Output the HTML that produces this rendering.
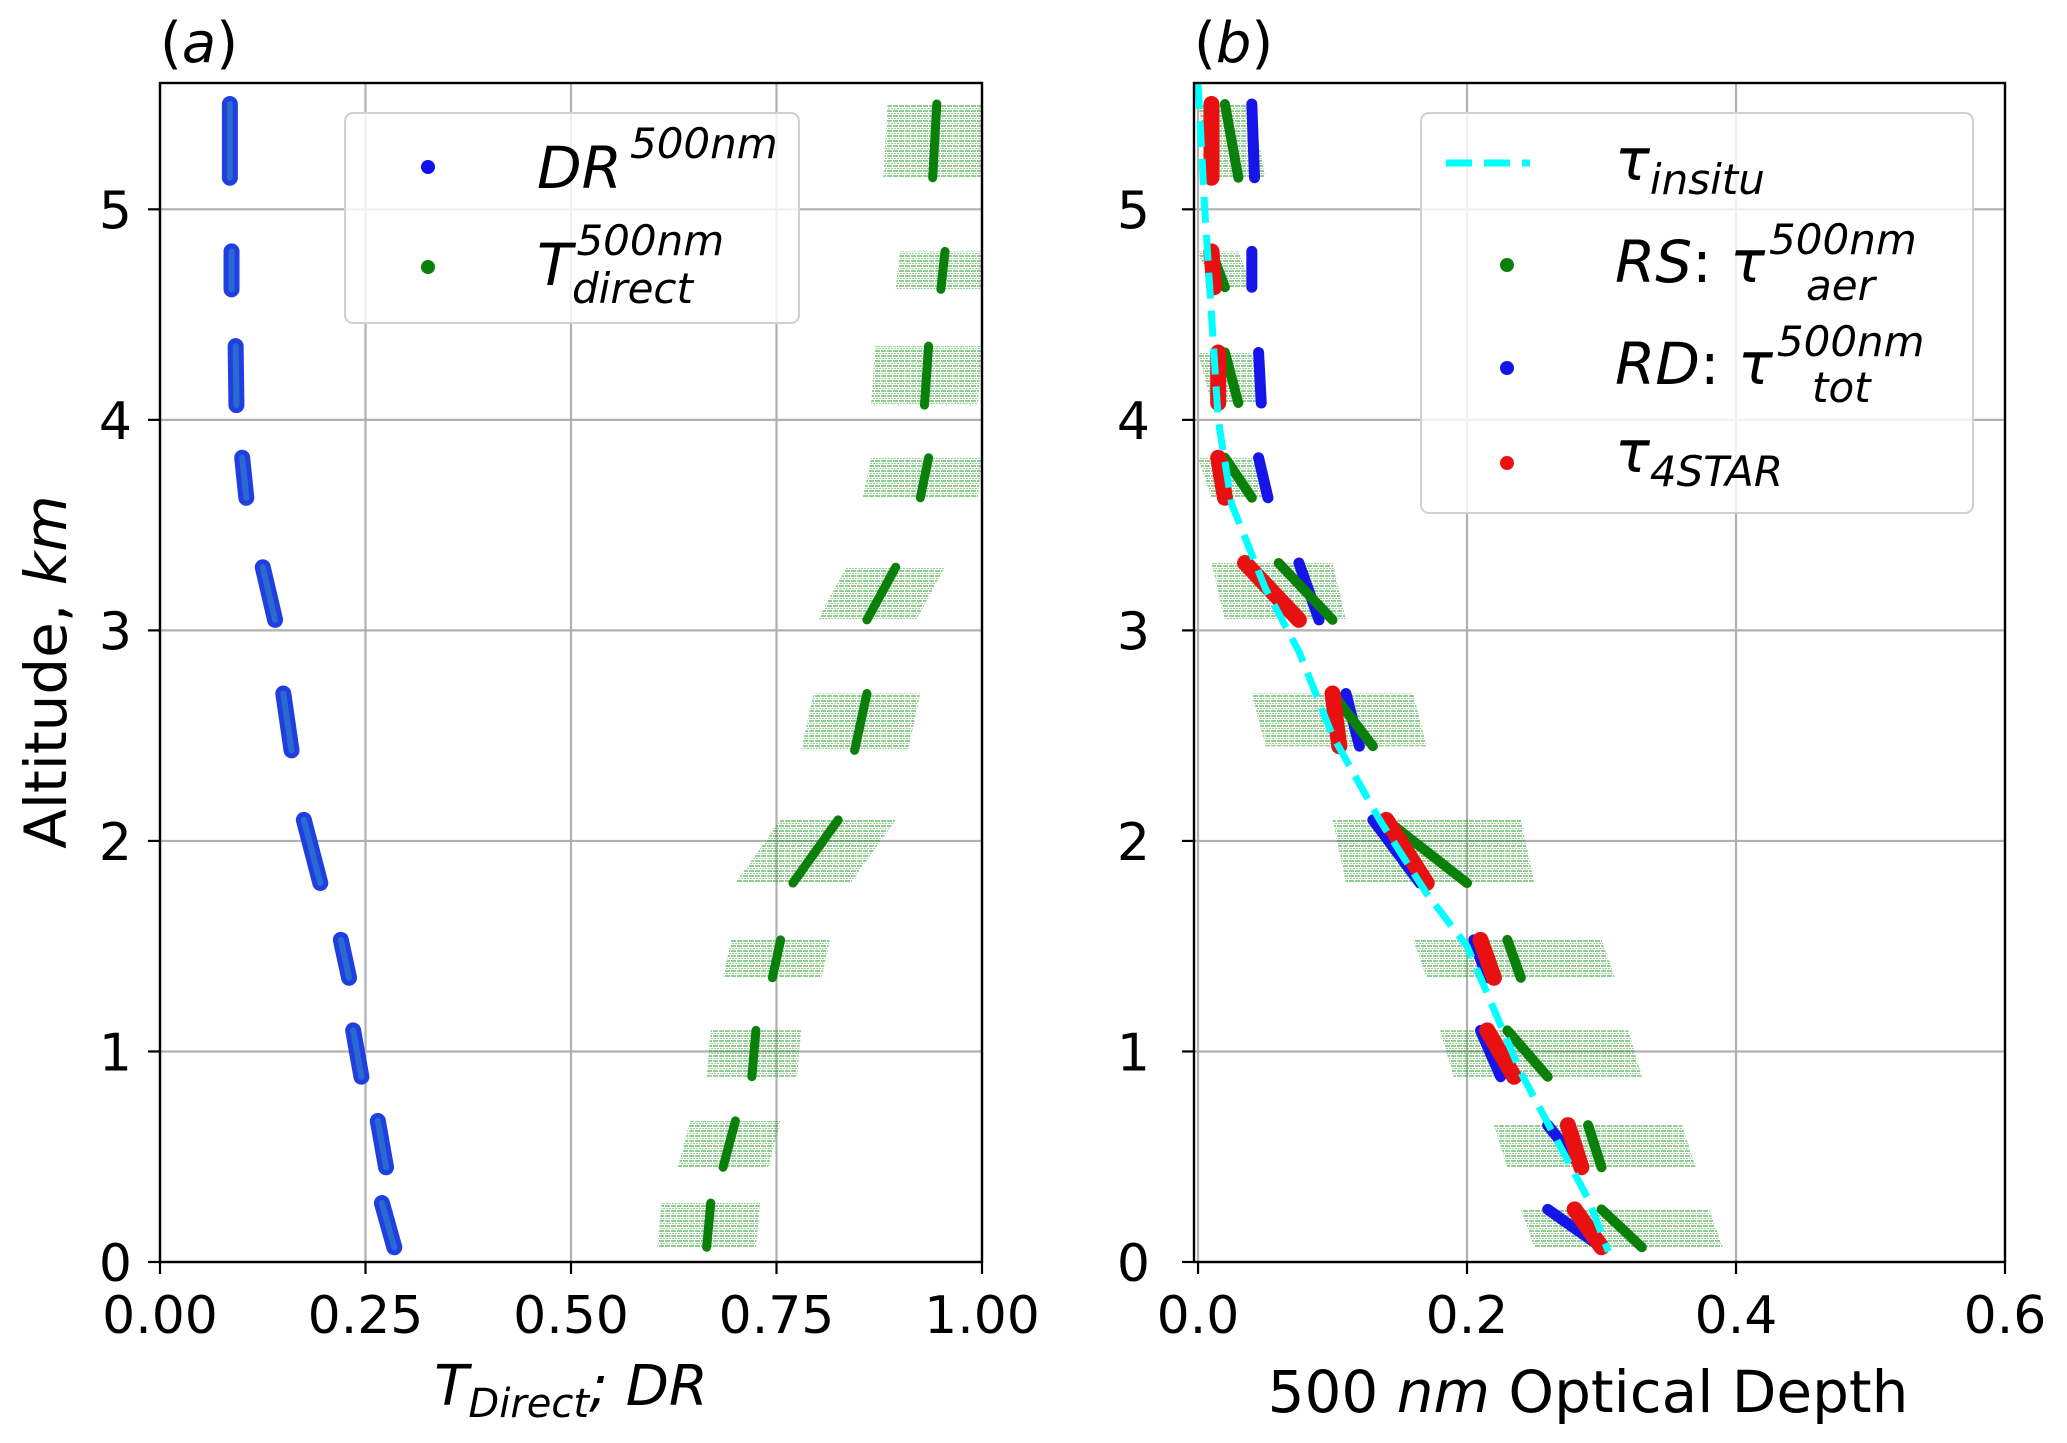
<!DOCTYPE html>
<html><head><meta charset="utf-8"><style>
html,body{margin:0;padding:0;background:#fff}
svg{display:block;font-family:"DejaVu Sans","Liberation Sans",sans-serif}
</style></head><body>
<svg id="fig" width="2067" height="1443" viewBox="0 0 2067 1443" xmlns="http://www.w3.org/2000/svg">
<defs>
<pattern id="hatch" width="6" height="5" patternUnits="userSpaceOnUse">
<line x1="0" y1="1" x2="6" y2="1" stroke="#2ca02c" stroke-width="1.4" stroke-dasharray="4 1" opacity="0.7"/>
<line x1="0" y1="3.5" x2="6" y2="3.5" stroke="#2ca02c" stroke-width="1.1" stroke-dasharray="2 1" opacity="0.5"/>
</pattern>
</defs>
<g id="gA"></g>
<g id="gB"></g>
</svg>
<script>
// ---- Panel (a) data: altitude segments (km) ----
const segTop = [5.5, 4.8, 4.35, 3.82, 3.3, 2.7, 2.1, 1.53, 1.1, 0.67, 0.28];
const segBot = [5.15, 4.62, 4.07, 3.63, 3.05, 2.43, 1.8, 1.35, 0.88, 0.45, 0.07];
const drTop  = [0.085, 0.087, 0.092, 0.100, 0.125, 0.150, 0.175, 0.220, 0.235, 0.265, 0.270];
const drBot  = [0.085, 0.087, 0.093, 0.105, 0.140, 0.160, 0.195, 0.230, 0.245, 0.275, 0.285];
const tdTop  = [0.945, 0.955, 0.935, 0.935, 0.895, 0.860, 0.825, 0.755, 0.725, 0.700, 0.670];
const tdBot  = [0.940, 0.950, 0.930, 0.925, 0.860, 0.845, 0.770, 0.745, 0.720, 0.685, 0.665];
const tdErr  = [0.060, 0.055, 0.065, 0.070, 0.060, 0.065, 0.070, 0.060, 0.055, 0.055, 0.060];
const aXTicks = [0, 0.25, 0.5, 0.75, 1.0];
const aXTickLabels = ["0.00", "0.25", "0.50", "0.75", "1.00"];
const yTicks = [0, 1, 2, 3, 4, 5];
// ---- Panel (b) data ----
const bSegTop = [5.5, 4.8, 4.32, 3.82, 3.32, 2.7, 2.1, 1.53, 1.1, 0.65, 0.25];
const bSegBot = [5.15, 4.63, 4.08, 3.63, 3.05, 2.45, 1.8, 1.35, 0.88, 0.45, 0.07];
const starTop = [0.010, 0.010, 0.015, 0.015, 0.035, 0.100, 0.140, 0.210, 0.215, 0.275, 0.280];
const starBot = [0.010, 0.012, 0.015, 0.020, 0.075, 0.105, 0.170, 0.220, 0.235, 0.285, 0.300];
const rdTop   = [0.040, 0.040, 0.045, 0.045, 0.075, 0.110, 0.130, 0.205, 0.210, 0.260, 0.260];
const rdBot   = [0.042, 0.040, 0.047, 0.052, 0.090, 0.120, 0.165, 0.215, 0.225, 0.285, 0.300];
const rsTop   = [0.020, 0.010, 0.020, 0.020, 0.060, 0.100, 0.140, 0.230, 0.230, 0.290, 0.300];
const rsBot   = [0.030, 0.020, 0.030, 0.040, 0.100, 0.130, 0.200, 0.240, 0.260, 0.300, 0.330];
const rsErrL  = [0.000, 0.000, 0.000, 0.000, 0.010, 0.040, 0.100, 0.160, 0.180, 0.220, 0.240];
const rsErrR  = [0.050, 0.040, 0.050, 0.050, 0.110, 0.170, 0.250, 0.310, 0.330, 0.370, 0.390];
const insituTau = [0.0, 0.005, 0.01, 0.015, 0.025, 0.05, 0.075, 0.1, 0.135, 0.17, 0.2, 0.22, 0.24, 0.265, 0.29, 0.305];
const insituZ   = [5.6, 5.0, 4.5, 4.0, 3.6, 3.2, 2.9, 2.5, 2.1, 1.75, 1.5, 1.2, 0.9, 0.6, 0.3, 0.05];
const bXTicks = [0, 0.2, 0.4, 0.6];
const bXTickLabels = ["0.0", "0.2", "0.4", "0.6"];

const NS = "http://www.w3.org/2000/svg";
function mk(parent, tag, attrs, text){
  const e = document.createElementNS(NS, tag);
  for (const k in attrs) e.setAttribute(k, attrs[k]);
  if (text !== undefined) e.textContent = text;
  parent.appendChild(e); return e;
}
const yTopPx = 83, yBotPx = 1262, yMax = 5.6;
function Y(z){ return yBotPx - (z / yMax) * (yBotPx - yTopPx); }
const aL = 160, aR = 982;
function XA(v){ return aL + v * (aR - aL); }
const bL = 1194, bR = 2005, bMin = -0.003, bMax = 0.6;
function XB(v){ return bL + (v - bMin) / (bMax - bMin) * (bR - bL); }

function axes(g, L, R, xTicks, xLabels, X){
  xTicks.forEach(t => {
    const l = mk(g, "line", {x1: X(t), x2: X(t), y1: yTopPx, y2: yBotPx, stroke: "#b0b0b0", "stroke-width": 2.2});
    
    
  });
  yTicks.forEach(t => {
    const l = mk(g, "line", {x1: L, x2: R, y1: Y(t), y2: Y(t), stroke: "#b0b0b0", "stroke-width": 2.2});
    
    
  });
}
function frame(g, L, R, xTicks, xLabels, X, tickX){
  const r = mk(g, "rect", {x: L, y: yTopPx, width: R - L, height: yBotPx - yTopPx, fill: "none", stroke: "#000", "stroke-width": 2.4});
  
  
  xTicks.forEach((t, i) => {
    mk(g, "line", {x1: X(t), x2: X(t), y1: yBotPx, y2: yBotPx + 12, stroke: "#000", "stroke-width": 2.2});
    const tx = mk(g, "text", {x: X(t), y: yBotPx + 71, "font-size": 52, "text-anchor": "middle"}, xLabels[i]);
    
    
  });
  yTicks.forEach(t => {
    mk(g, "line", {x1: L - 12, x2: L, y1: Y(t), y2: Y(t), stroke: "#000", "stroke-width": 2.2});
    const tx = mk(g, "text", {x: tickX, y: Y(t) + 19, "font-size": 52, "text-anchor": "end"}, String(t));
    
    
  });
}
function errBlock(g, X, xl1, xr1, xl2, xr2, z1, z2){
  const p = mk(g, "polygon", {points: `${X(xl1)},${Y(z1)} ${X(xr1)},${Y(z1)} ${X(xr2)},${Y(z2)} ${X(xl2)},${Y(z2)}`, fill: "url(#hatch)"});
  
  
}
function cluster(g, X, x1, x2, z1, z2, color, w, name){
  const l = mk(g, "line", {x1: X(x1), x2: X(x2), y1: Y(z1), y2: Y(z2), stroke: color, "stroke-width": w, "stroke-linecap": "round"});
  
  
}

// ---- Panel A ----
const gA = document.getElementById("gA");
axes(gA, aL, aR, aXTicks, aXTickLabels, XA);
segTop.forEach((zt, i) => {
  errBlock(gA, XA, tdTop[i] - tdErr[i], Math.min(1, tdTop[i] + tdErr[i]), tdBot[i] - tdErr[i], Math.min(1, tdBot[i] + tdErr[i]), segTop[i], segBot[i]);
});
segTop.forEach((zt, i) => {
  cluster(gA, XA, drTop[i], drBot[i], segTop[i], segBot[i], "#1f3fe0", 16, "dr-cluster");
  cluster(gA, XA, drTop[i], drBot[i], segTop[i], segBot[i], "#2a6ad0", 6, "dr-cluster-core");
  cluster(gA, XA, tdTop[i], tdBot[i], segTop[i], segBot[i], "#0a800a", 9, "tdirect-cluster");
});
frame(gA, aL, aR, aXTicks, aXTickLabels, XA, 132);
let t = mk(gA, "text", {x: 160, y: 62, "font-size": 56}, "");
t.innerHTML = '(<tspan font-style="italic">a</tspan>)';
 
t = mk(gA, "text", {x: 0, y: 0, "font-size": 58, "text-anchor": "middle", transform: "translate(66,672) rotate(-90)"}, "");
t.innerHTML = 'Altitude, <tspan font-style="italic">km</tspan>';
 
t = mk(gA, "text", {x: 571, y: 1405, "font-size": 56, "text-anchor": "middle", "font-style": "italic"}, "");
t.innerHTML = 'T<tspan font-size="40" dy="12">Direct</tspan><tspan dy="-12">; DR</tspan>';
 
// legend a
const lgA = mk(gA, "g", {});
 
mk(lgA, "rect", {x: 345, y: 113, width: 454, height: 210, rx: 8, fill: "#fff", "fill-opacity": 0.8, stroke: "#d0d0d0", "stroke-width": 2});
mk(lgA, "circle", {cx: 428, cy: 167, r: 7, fill: "#1010f0"});
t = mk(lgA, "text", {x: 537, y: 188, "font-size": 58, "font-style": "italic"}, "");
t.innerHTML = 'DR<tspan font-size="42" dy="-30" dx="8">500nm</tspan>';
 
mk(lgA, "circle", {cx: 428, cy: 267, r: 7, fill: "#0a800a"});
t = mk(lgA, "text", {x: 537, y: 285, "font-size": 58, "font-style": "italic"}, "");
t.innerHTML = 'T<tspan font-size="42" dy="-30" dx="4">500nm</tspan><tspan font-size="42" x="572" dy="48">direct</tspan>';
 

// ---- Panel B ----
const gB = document.getElementById("gB");
axes(gB, bL, bR, bXTicks, bXTickLabels, XB);
bSegTop.forEach((zt, i) => {
  errBlock(gB, XB, rsErrL[i], rsErrR[i] - 0.01, rsErrL[i] + 0.01, rsErrR[i], bSegTop[i], bSegBot[i]);
});
bSegTop.forEach((zt, i) => {
  cluster(gB, XB, rdTop[i], rdBot[i], bSegTop[i], bSegBot[i], "#1515e8", 11, "rd-cluster");
  cluster(gB, XB, rsTop[i], rsBot[i], bSegTop[i], bSegBot[i], "#0a800a", 10, "rs-cluster");
  cluster(gB, XB, starTop[i], starBot[i], bSegTop[i], bSegBot[i], "#e81010", 16, "4star-cluster");
});
let pts = insituTau.map((v, i) => `${XB(v)},${Y(insituZ[i])}`).join(" ");
const cy = mk(gB, "polyline", {points: pts, fill: "none", stroke: "#00ffff", "stroke-width": 7, "stroke-dasharray": "26 12"});
 
frame(gB, bL, bR, bXTicks, bXTickLabels, XB, 1150);
t = mk(gB, "text", {x: 1194, y: 62, "font-size": 56}, "");
t.innerHTML = '(<tspan font-style="italic">b</tspan>)';
 
t = mk(gB, "text", {x: 1588, y: 1412, "font-size": 58, "text-anchor": "middle"}, "");
t.innerHTML = '500 <tspan font-style="italic">nm</tspan> Optical Depth';
 
// legend b
const lgB = mk(gB, "g", {});
 
mk(lgB, "rect", {x: 1421, y: 113, width: 552, height: 400, rx: 8, fill: "#fff", "fill-opacity": 0.8, stroke: "#d0d0d0", "stroke-width": 2});
mk(lgB, "line", {x1: 1446, x2: 1530, y1: 163, y2: 163, stroke: "#00ffff", "stroke-width": 7, "stroke-dasharray": "26 12"});
t = mk(lgB, "text", {x: 1615, y: 180, "font-size": 58, "font-style": "italic"}, "");
t.innerHTML = 'τ<tspan font-size="42" dy="14">insitu</tspan>';
 
mk(lgB, "circle", {cx: 1507, cy: 265, r: 7, fill: "#0a800a"});
t = mk(lgB, "text", {x: 1615, y: 282, "font-size": 58, "font-style": "italic"}, "");
t.innerHTML = 'RS<tspan font-style="normal">: </tspan> τ<tspan font-size="42" dy="-28" dx="4">500nm</tspan><tspan font-size="42" x="1806" dy="46">aer</tspan>';
 
mk(lgB, "circle", {cx: 1507, cy: 368, r: 7, fill: "#1515e8"});
t = mk(lgB, "text", {x: 1615, y: 384, "font-size": 58, "font-style": "italic"}, "");
t.innerHTML = 'RD<tspan font-style="normal">: </tspan> τ<tspan font-size="42" dy="-28" dx="4">500nm</tspan><tspan font-size="42" x="1812" dy="46">tot</tspan>';
 
mk(lgB, "circle", {cx: 1507, cy: 463, r: 7, fill: "#e81010"});
t = mk(lgB, "text", {x: 1615, y: 472, "font-size": 58, "font-style": "italic"}, "");
t.innerHTML = 'τ<tspan font-size="42" dy="14">4STAR</tspan>';
 
</script>
</body></html>
